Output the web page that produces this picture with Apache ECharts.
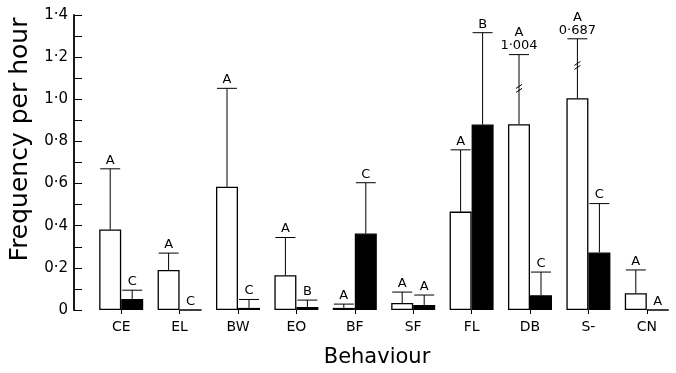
<!DOCTYPE html>
<html>
<head>
<meta charset="utf-8">
<script src="https://cdn.jsdelivr.net/npm/echarts@6/dist/echarts.min.js"></script>
<style>
  html, body { margin: 0; padding: 0; background: #fff; }
  #chart { width: 676px; height: 373px; }
</style>
</head>
<body>
<div id="chart"></div>
<script>
"use strict";

// behaviour categories
const categories = ['CE', 'EL', 'BW', 'EO', 'BF', 'SF', 'FL', 'DB', 'S-', 'CN'];

// open (white) bars: mean and top of error bar
const openMeans = [0.382, 0.19, 0.585, 0.165, 0.01, 0.033, 0.467, 0.882, 1.005, 0.08];
const openErrTop = [0.67, 0.27, 1.052, 0.344, 0.028, 0.085, 0.76, 1.212, 1.287, 0.19];
const openLetters = ['A', 'A', 'A', 'A', 'A', 'A', 'A', 'A', 'A', 'A'];
// broken error bars: printed SD and where the break sits
const openErrText = [null, null, null, null, null, null, null, '1·004', '0·687', null];
const openBreakAt = [null, null, null, null, null, null, null, 1.047, 1.156, null];

// filled (black) bars
const filledMeans = [0.052, 0, 0.01, 0.014, 0.363, 0.024, 0.88, 0.07, 0.273, 0];
const filledErrTop = [0.094, null, 0.05, 0.047, 0.604, 0.071, 1.316, 0.18, 0.505, null];
const filledLetters = ['C', 'C', 'C', 'B', 'C', 'A', 'B', 'C', 'C', 'A'];

const yTicks = [0, 0.2, 0.4, 0.6, 0.8, 1.0, 1.2, 1.4];

const FONT = 'DejaVu Sans';
const HALF = 11;

function errorRenderer(means, tops, letters, texts, breaks, side) {
    return function (params, api) {
        let i = params.dataIndex;
        let x = api.coord([i, 0])[0] + side * HALF;
        let yBase = api.coord([i, means[i]])[1];
        let kids = [];
        let lineStyle = { stroke: '#000', lineWidth: 1 };
        let txt = function (s, y) {
            return {
                type: 'text',
                style: {
                    text: s, x: x, y: y, align: 'center', verticalAlign: 'bottom',
                    font: '13px "' + FONT + '"', fill: '#000'
                }
            };
        };
        if (tops[i] == null) {
            kids.push(txt(letters[i], yBase - 2));
            return { type: 'group', children: kids };
        }
        let yTop = api.coord([i, tops[i]])[1];
        kids.push({ type: 'line', shape: { x1: x, y1: yBase, x2: x, y2: yTop }, style: lineStyle });
        kids.push({ type: 'line', shape: { x1: x - 10, y1: yTop, x2: x + 10, y2: yTop }, style: lineStyle });
        if (breaks[i] != null) {
            let yb = api.coord([i, breaks[i]])[1];
            kids.push({ type: 'line', shape: { x1: x - 3, y1: yb - 1, x2: x + 3, y2: yb - 5 }, style: lineStyle });
            kids.push({ type: 'line', shape: { x1: x - 3, y1: yb + 3, x2: x + 3, y2: yb - 1 }, style: lineStyle });
        }
        let yy = yTop - 2;
        if (texts[i]) {
            kids.push(txt(texts[i], yy));
            yy -= 13;
        }
        kids.push(txt(letters[i], yy));
        return { type: 'group', children: kids };
    };
}

let myChart = echarts.init(document.getElementById('chart'));

let option = {
    animation: false,
    backgroundColor: '#fff',
    grid: { left: 92, top: 15, width: 597, bottom: 61 },
    xAxis: {
        type: 'category',
        data: categories,
        name: 'Behaviour',
        nameLocation: 'middle',
        nameGap: 37,
        nameTextStyle: { fontFamily: FONT, fontSize: 21, color: '#000', padding: [0, 14, 0, 0] },
        axisLine: { show: false },
        axisTick: { show: true, alignWithLabel: true, length: 4, lineStyle: { color: '#000' } },
        axisLabel: { fontFamily: FONT, fontSize: 14, color: '#000', margin: 10 }
    },
    yAxis: {
        type: 'value',
        min: 0,
        max: 1.4,
        interval: 0.1,
        offset: 18,
        name: 'Frequency per hour',
        nameLocation: 'middle',
        nameGap: 38,
        nameTextStyle: { fontFamily: FONT, fontSize: 25, color: '#000', padding: [0, 0, 0, 46] },
        axisLine: { show: true, lineStyle: { color: '#000', width: 1.8 } },
        axisTick: { show: true, inside: true, length: 8, lineStyle: { color: '#000' } },
        splitLine: { show: false },
        axisLabel: {
            fontFamily: FONT, fontSize: 15, color: '#000', margin: 6,
            formatter: function (v) {
                let hit = yTicks.find(function (t) { return Math.abs(t - v) < 1e-6; });
                if (hit === undefined) return '';
                if (hit === 0) return '0';
                return hit.toFixed(1).replace('.', '·');
            }
        }
    },
    series: [
        {
            type: 'bar',
            data: openMeans,
            barWidth: 22,
            barGap: '0%',
            itemStyle: { color: '#fff', borderColor: '#000', borderWidth: 1.3 }
        },
        {
            type: 'bar',
            data: filledMeans,
            barWidth: 22,
            barGap: '0%',
            itemStyle: { color: '#000', borderColor: '#000', borderWidth: 1.3 }
        },
        {
            type: 'custom',
            data: openErrTop.map(function (v, i) { return [i, v == null ? 0 : v]; }),
            renderItem: errorRenderer(openMeans, openErrTop, openLetters, openErrText, openBreakAt, -1),
            z: 5
        },
        {
            type: 'custom',
            data: filledErrTop.map(function (v, i) { return [i, v == null ? 0 : v]; }),
            renderItem: errorRenderer(filledMeans, filledErrTop, filledLetters, [], [], 1),
            z: 5
        }
    ]
};

myChart.setOption(option);

window.addEventListener('resize', function () {
    myChart.resize();
});
</script>
</body>
</html>
